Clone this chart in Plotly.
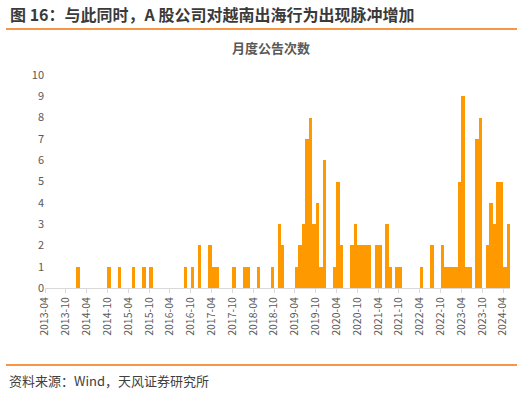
import plotly.graph_objects as go
import pandas as pd

# categories: monthly, 2013-04 .. 2024-05
months = [p.strftime("%Y-%m") for p in pd.period_range("2013-04", "2024-05", freq="M")]

# monthly announcement counts, by year
counts_2013 = [0, 0, 0, 0, 0, 0, 0, 0, 0]                 # Apr-Dec
counts_2014 = [1, 0, 0, 0, 0, 0, 0, 0, 0, 1, 0, 0]
counts_2015 = [1, 0, 0, 0, 1, 0, 0, 1, 0, 1, 0, 0]
counts_2016 = [0, 0, 0, 0, 0, 0, 0, 1, 0, 1, 0, 2]
counts_2017 = [0, 0, 2, 1, 1, 0, 0, 0, 0, 1, 0, 0]
counts_2018 = [1, 1, 0, 0, 1, 0, 0, 0, 1, 0, 3, 2]
counts_2019 = [0, 0, 0, 1, 2, 3, 7, 8, 3, 4, 1, 6]
counts_2020 = [0, 0, 1, 5, 2, 0, 0, 2, 3, 2, 2, 2]
counts_2021 = [2, 0, 2, 2, 0, 3, 1, 0, 1, 1, 0, 0]
counts_2022 = [0, 0, 0, 1, 0, 0, 2, 0, 0, 2, 1, 1]
counts_2023 = [1, 1, 5, 9, 1, 1, 0, 7, 8, 0, 2, 4]
counts_2024 = [3, 5, 5, 1, 3]                             # Jan-May

counts = (counts_2013 + counts_2014 + counts_2015 + counts_2016 + counts_2017 + counts_2018
          + counts_2019 + counts_2020 + counts_2021 + counts_2022 + counts_2023 + counts_2024)

tick_labels = months[::6]
tick_positions = list(range(0, len(months), 6))

title_text = "图 16：与此同时，A 股公司对越南出海行为出现脉冲增加"
chart_title = "月度公告次数"
source_text = "资料来源：Wind，天风证券研究所"

W, H = 531, 393
L, R, T, B = 45, 21, 75, 105
pw, ph = W - L - R, H - T - B


def px(x):
    return (x - L) / pw


def py(y):
    return (H - B - y) / ph


FONT = "Noto Sans CJK SC, Noto Sans, sans-serif"

fig = go.Figure()
fig.add_trace(go.Bar(
    x=[i + 0.5 for i in range(len(months))],
    y=counts,
    width=1,
    marker=dict(color="#FF9900", line=dict(width=0)),
    hovertext=months,
))

fig.update_layout(
    width=W, height=H, autosize=False,
    margin=dict(l=L, r=R, t=T, b=B, pad=0),
    paper_bgcolor="white", plot_bgcolor="white",
    showlegend=False, bargap=0,
    font=dict(family=FONT, color="#595959"),
    xaxis=dict(
        range=[0, len(months)],
        tickmode="array", tickvals=tick_positions, ticktext=tick_labels,
        tickangle=-90, tickfont=dict(size=10.5, color="#595959"),
        showline=True, linecolor="#D9D9D9", linewidth=1,
        ticks="outside", ticklen=4, tickcolor="#D9D9D9",
        showgrid=False, zeroline=False,
    ),
    yaxis=dict(
        range=[0, 10], dtick=1,
        tickfont=dict(size=11, color="#595959"),
        showline=False, showgrid=False, zeroline=False,
        ticks="",
    ),
    shapes=[
        dict(type="line", xref="paper", yref="paper",
             x0=px(6), x1=px(517), y0=py(29), y1=py(29),
             line=dict(color="#F79646", width=2)),
        dict(type="line", xref="paper", yref="paper",
             x0=px(6), x1=px(517), y0=py(365), y1=py(365),
             line=dict(color="#F79646", width=2)),
    ],
    annotations=[
        dict(text="<b>" + title_text + "</b>", xref="paper", yref="paper",
             x=px(8), y=py(14), xanchor="left", yanchor="middle",
             showarrow=False, font=dict(size=16, color="#3a3a3a", family=FONT)),
        dict(text="<b>" + chart_title + "</b>", xref="paper", yref="paper",
             x=px(271), y=py(48), xanchor="center", yanchor="middle",
             showarrow=False, font=dict(size=13, color="#595959", family=FONT)),
        dict(text=source_text, xref="paper", yref="paper",
             x=px(7), y=py(381), xanchor="left", yanchor="middle",
             showarrow=False, font=dict(size=13, color="#404040", family=FONT)),
    ],
)

fig.write_html("out.html")
